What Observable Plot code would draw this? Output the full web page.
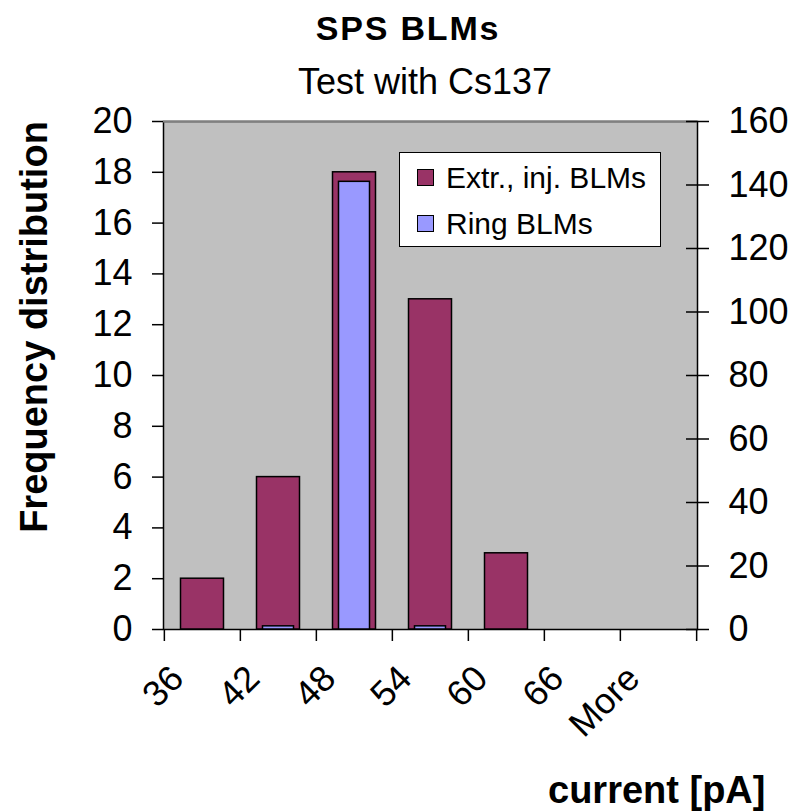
<!DOCTYPE html>
<html><head><meta charset="utf-8">
<script src="https://cdn.jsdelivr.net/npm/d3@7"></script>
<script src="https://cdn.jsdelivr.net/npm/@observablehq/plot@0.6"></script>
<style>
body{margin:0;background:#fff;font-family:"Liberation Sans",Arial,sans-serif;}
#wrap{position:relative;width:794px;height:811px;overflow:hidden;}
.abs{position:absolute;white-space:nowrap;color:#000;line-height:1;}
#chart{position:absolute;left:0;top:0;}
</style></head><body>
<div id="wrap">
<div id="chart"></div>
<div class="abs" id="title" style="left:408px;top:11px;transform:translateX(-50%);font-weight:bold;font-size:34px;letter-spacing:1.8px;">SPS BLMs</div>
<div class="abs" id="subtitle" style="left:425px;top:64px;transform:translateX(-50%);font-size:36px;">Test with Cs137</div>
<div class="abs" id="ylabel" style="left:34px;top:327px;transform:translate(-50%,-50%) rotate(-90deg);font-weight:bold;font-size:38px;">Frequency distribution</div>
<div class="abs" id="xlabel" style="left:548px;top:771px;font-weight:bold;font-size:38px;">current [pA]</div>
<div class="abs" id="legend" style="left:399px;top:152px;width:260px;height:93px;background:#fff;border:1.5px solid #000;"></div>
</div>
<script>
const categories = ["36", "42", "48", "54", "60", "66", "More"];
const extrInj = [2, 6, 18, 13, 3, 0, 0];
const ringBLMs = [0, 1, 141, 1, 0, 0, 0];
const leftTicks = [0, 2, 4, 6, 8, 10, 12, 14, 16, 18, 20];
const rightTicks = [0, 20, 40, 60, 80, 100, 120, 140, 160];
const seriesNames = ["Extr., inj. BLMs", "Ring BLMs"];
const seriesColors = ["#993366", "#9999FF"];

const ratio = 20 / 160;
const W = 794, H = 811;
const mL = 163, mR = 97, mT = 121, mB = 182;
const bw = (W - mL - mR) / categories.length;

const extrData = categories.map((c, i) => ({cat: c, value: extrInj[i]})).filter(d => d.value > 0);
const ringData = categories.map((c, i) => ({cat: c, value: ringBLMs[i]})).filter(d => d.value > 0);

const font = "'Liberation Sans', Arial, sans-serif";
const tickTail = 12 * 20 / (H - mT - mB);

const chart = Plot.plot({
  width: W, height: H,
  marginLeft: mL, marginRight: mR, marginTop: mT, marginBottom: mB,
  style: {fontFamily: font, fontSize: "36px", background: "transparent", overflow: "visible", color: "#000"},
  x: {domain: categories, padding: 0, label: null, axis: null},
  y: {domain: [0, 20], label: null, axis: null},
  marks: [
    Plot.frame({fill: "#c0c0c0", stroke: "#000", strokeWidth: 1.5}),
    Plot.ruleY([20], {stroke: "#808080", strokeWidth: 2}),
    Plot.barY(extrData, {x: "cat", y: "value", fill: seriesColors[0], stroke: "#000", strokeWidth: 1.5, insetLeft: 16.5, insetRight: 16.5}),
    Plot.barY(ringData, {x: "cat", y: d => d.value * ratio, fill: seriesColors[1], stroke: "#000", strokeWidth: 1.5, insetLeft: 22.5, insetRight: 22.5}),
    // left axis
    Plot.axisY({anchor: "left", ticks: leftTicks, tickSize: 11, tickPadding: 20, tickFormat: d => String(d), fontSize: 36, stroke: "#000", strokeWidth: 1.5, label: null}),
    // right axis (secondary, scaled)
    Plot.axisY({anchor: "right", ticks: rightTicks.map(v => v * ratio), tickSize: 11, tickPadding: 20, tickFormat: d => String(Math.round(d / ratio)), fontSize: 36, stroke: "#000", strokeWidth: 1.5, label: null}),
    Plot.axisY({anchor: "right", ticks: rightTicks.map(v => v * ratio), tickSize: 12, dx: -12, tickFormat: () => "", stroke: "#000", strokeWidth: 1.5, label: null}),
    // category boundary ticks
    Plot.ruleX(categories, {x: d => d, y1: 0, y2: -tickTail, dx: -bw / 2, stroke: "#000", strokeWidth: 1.5}),
    Plot.ruleX([categories[categories.length - 1]], {x: d => d, y1: 0, y2: -tickTail, dx: bw / 2, stroke: "#000", strokeWidth: 1.5}),
    // rotated category labels
    Plot.text(categories, {x: d => d, frameAnchor: "bottom", dx: -25, dy: 43, rotate: -45, textAnchor: "end", lineAnchor: "middle", fontSize: 36, fill: "#000"})
  ]
});
document.getElementById("chart").appendChild(chart);

// legend
const legend = document.getElementById("legend");
seriesNames.forEach((name, i) => {
  const sw = document.createElement("div");
  sw.className = "abs";
  sw.style.cssText = `left:17px;top:${16 + i * 46}px;width:15px;height:15px;background:${seriesColors[i]};border:1.5px solid #000;`;
  legend.appendChild(sw);
  const t = document.createElement("div");
  t.className = "abs";
  t.style.cssText = `left:46px;top:${10 + i * 46}px;font-size:30px;`;
  t.textContent = name;
  legend.appendChild(t);
});
</script>
</body></html>
